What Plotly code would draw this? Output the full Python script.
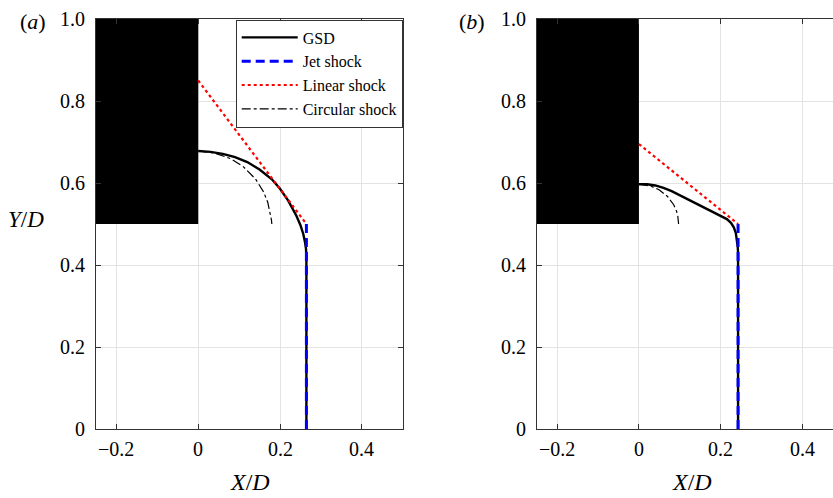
import plotly.graph_objects as go

# ---------------- data ----------------
nozzle_x = [-0.25, 0.0, 0.0, -0.25, -0.25]
nozzle_y = [0.5, 0.5, 1.0, 1.0, 0.5]

# panel (a)
a_gsd_x = [0.0, 0.03, 0.06, 0.09, 0.12, 0.15, 0.18, 0.20, 0.22, 0.24, 0.25, 0.257, 0.261, 0.2635, 0.2645, 0.2645]
a_gsd_y = [0.678, 0.676, 0.671, 0.663, 0.651, 0.633, 0.609, 0.586, 0.557, 0.520, 0.497, 0.475, 0.456, 0.44, 0.42, 0.0]
a_jet_x = [0.2645, 0.2645]
a_jet_y = [0.0, 0.5]
a_lin_x = [0.0, 0.2645]
a_lin_y = [0.85, 0.5]
a_cir_x = [0.0, 0.04, 0.08, 0.11, 0.14, 0.16, 0.17, 0.176, 0.179, 0.18]
a_cir_y = [0.678, 0.673, 0.659, 0.640, 0.610, 0.578, 0.553, 0.527, 0.510, 0.5]

# panel (b)
b_gsd_x = [0.0, 0.02, 0.04, 0.06, 0.08, 0.10, 0.12, 0.14, 0.16, 0.18, 0.20, 0.215, 0.225, 0.232, 0.237, 0.240, 0.2415, 0.2424, 0.2424]
b_gsd_y = [0.597, 0.597, 0.594, 0.588, 0.580, 0.570, 0.560, 0.550, 0.540, 0.531, 0.521, 0.512, 0.503, 0.492, 0.478, 0.462, 0.445, 0.43, 0.0]
b_jet_x = [0.2424, 0.2424]
b_jet_y = [0.0, 0.5]
b_lin_x = [0.0, 0.2424]
b_lin_y = [0.695, 0.5]
b_cir_x = [0.0, 0.03, 0.05, 0.07, 0.085, 0.092, 0.095, 0.097]
b_cir_y = [0.597, 0.592, 0.583, 0.567, 0.547, 0.531, 0.519, 0.5]

x_tickvals = [-0.2, 0.0, 0.2, 0.4]
x_ticktext = ["\u22120.2", "0", "0.2", "0.4"]
y_tickvals = [0.0, 0.2, 0.4, 0.6, 0.8, 1.0]
y_ticktext = ["0", "0.2", "0.4", "0.6", "0.8", "1.0"]

legend_names = ["GSD", "Jet shock", "Linear shock", "Circular shock"]

# ---------------- figure ----------------
W, H = 833, 498
SERIF = "Liberation Serif"

fig = go.Figure()

styles = [
    dict(color="black", width=2.4),
    dict(color="#0000ff", width=3, dash="9px,5px"),
    dict(color="#ff0000", width=2.2, dash="dot"),
    dict(color="black", width=1.2, dash="dashdot"),
]

panels = [
    ("x", "y", (a_gsd_x, a_gsd_y), (a_jet_x, a_jet_y), (a_lin_x, a_lin_y), (a_cir_x, a_cir_y), True),
    ("x2", "y2", (b_gsd_x, b_gsd_y), (b_jet_x, b_jet_y), (b_lin_x, b_lin_y), (b_cir_x, b_cir_y), False),
]

for xa, ya, gsd, jet, lin, cir, show in panels:
    fig.add_trace(go.Scatter(x=nozzle_x, y=nozzle_y, fill="toself", fillcolor="black",
                             mode="lines", line=dict(color="black", width=0),
                             showlegend=False, hoverinfo="skip", xaxis=xa, yaxis=ya))
    for name, (xs, ys), st in zip(legend_names, [gsd, jet, lin, cir], styles):
        fig.add_trace(go.Scatter(x=xs, y=ys, mode="lines", name=name, line=st,
                                 showlegend=show, xaxis=xa, yaxis=ya))

y0, y1 = 1 - 429 / H, 1 - 19 / H
xa_dom = [96 / W, 402.7 / W]
xb_dom = [536.7 / W, 1.0]
scale = (402.7 - 96) / 0.75
b_max = -0.25 + (W - 536.7) / scale

common = dict(showgrid=True, gridcolor="#e3e3e3", gridwidth=1, zeroline=False,
              showline=True, linecolor="#333333", linewidth=1,
              ticks="inside", ticklen=5, tickcolor="#333333",
              showticklabels=False, automargin=False)

fig.update_layout(
    width=W, height=H,
    margin=dict(l=0, r=0, t=0, b=0, pad=0, autoexpand=False),
    plot_bgcolor="white", paper_bgcolor="white",
    font=dict(family=SERIF, size=20, color="black"),
    xaxis=dict(domain=xa_dom, range=[-0.25, 0.5], anchor="y",
               tickvals=x_tickvals, mirror="allticks", **common),
    yaxis=dict(domain=[y0, y1], range=[0, 1], anchor="x",
               tickvals=y_tickvals, mirror="allticks", **common),
    xaxis2=dict(domain=xb_dom, range=[-0.25, b_max], anchor="y2",
                tickvals=x_tickvals, mirror="allticks", **common),
    yaxis2=dict(domain=[y0, y1], range=[0, 1], anchor="x2",
                tickvals=y_tickvals, mirror=False, **common),
    legend=dict(x=402.7 / W, y=1 - 19.5 / H, xanchor="right", yanchor="top",
                bgcolor="white", bordercolor="#333333", borderwidth=1,
                font=dict(family=SERIF, size=16, color="black"),
                tracegroupgap=0, itemwidth=56),
    showlegend=True,
)

tick_font = dict(family=SERIF, size=20, color="black")
for xa, ya in [("x", "y"), ("x2", "y2")]:
    for v, t in zip(x_tickvals, x_ticktext):
        fig.add_annotation(text=t, x=v, xref=xa, y=0, yref=f"{ya} domain",
                           xanchor="center", yanchor="top", yshift=-7,
                           showarrow=False, font=tick_font)
    for v, t in zip(y_tickvals, y_ticktext):
        fig.add_annotation(text=t, x=0, xref=f"{xa} domain", y=v, yref=ya,
                           xanchor="right", yanchor="middle", xshift=-9,
                           showarrow=False, font=tick_font)

for txt, px, py, sz in [
    ("<i>Y</i>/<i>D</i>", 26, 220, 23),
    ("<i>X</i>/<i>D</i>", 250, 482, 24),
    ("<i>X</i>/<i>D</i>", 692, 482, 24),
    ("(<i>a</i>)", 33, 22, 22),
    ("(<i>b</i>)", 472, 22, 22),
]:
    fig.add_annotation(text=txt, x=px / W, y=1 - py / H, xref="paper", yref="paper",
                       showarrow=False, xanchor="center", yanchor="middle",
                       font=dict(family=SERIF, size=sz, color="black"))

html = fig.to_html(full_html=True, include_plotlyjs=True, config={"displayModeBar": False})
html = html.replace("<head>", "<head><style>html,body{margin:0;padding:0;overflow:hidden;}</style>", 1)
with open("out.html", "w", encoding="utf-8") as f:
    f.write(html)
